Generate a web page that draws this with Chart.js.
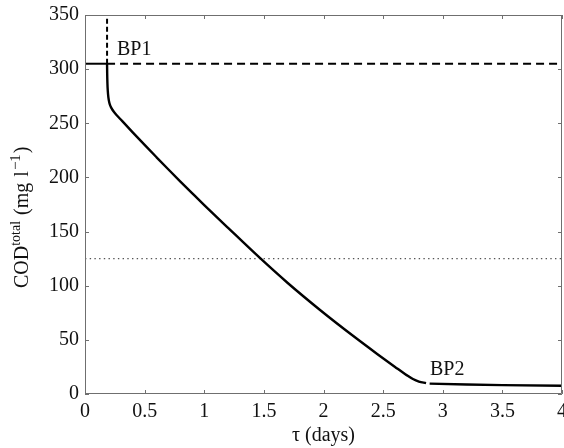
<!DOCTYPE html>
<html>
<head>
<meta charset="utf-8">
<script src="https://cdn.jsdelivr.net/npm/chart.js@4.4.1/dist/chart.umd.min.js"></script>
<style>
  html, body { margin: 0; padding: 0; background: #fff; }
  #wrap { width: 564px; height: 448px; position: relative; }
  .probe { position: absolute; left: -9999px; top: 0; font-family: "Liberation Serif", "Times New Roman", Tinos, "DejaVu Serif", serif; font-size: 19px; }
</style>
</head>
<body>
<span class="probe">COD BP1 0123456789</span>
<div id="wrap"><canvas id="c" width="564" height="448"></canvas></div>
<script>
// COD decline with residence time, up to breakpoint BP2
const curveX = [0.185, 0.186, 0.188, 0.191, 0.196, 0.204, 0.215, 0.23, 0.25, 0.3, 0.4, 0.5, 0.6, 0.7, 0.8, 0.9, 1.0, 1.2, 1.453, 1.7, 1.971, 2.25, 2.45, 2.6, 2.7, 2.75, 2.8, 2.86];
const curveY = [305, 296, 287, 280, 274, 269, 265.5, 262.5, 259.5, 253.5, 241.6, 230, 218.6, 207.3, 196.2, 185.3, 174.5, 153.4, 127, 102.5, 77.6, 53.5, 37, 25, 17.2, 13.8, 11.5, 10];
// plateau after BP2
const tailX = [2.89, 3.2, 3.5, 4];
const tailY = [9.6, 8.8, 8.2, 7.6];
// reference levels
const bp1X = 0.185;
const bp1Level = 305;
const limitLevel = 125;
const xRange = [0, 4];
const yRange = [0, 350];
const xTickStep = 0.5;
const yTickStep = 50;
const labels = [
  { text: 'BP1', x: 0.268, y: 313 },
  { text: 'BP2', x: 2.893, y: 17.5 }
];

const SERIF = '"Liberation Serif", "Times New Roman", Tinos, "DejaVu Serif", serif';
const pairs = (xs, ys) => xs.map((x, i) => ({ x: x, y: ys[i] }));

// frame, inward ticks, annotations and the y title
const decor = {
  id: 'decor',
  afterDatasetsDraw(chart) {
    const { ctx, chartArea: a, scales: { x, y } } = chart;
    ctx.save();
    ctx.strokeStyle = '#6f6f6f';
    ctx.lineWidth = 1;
    ctx.beginPath();
    ctx.rect(a.left + 0.5, a.top + 0.5, a.right - a.left - 1, a.bottom - a.top - 1);
    ctx.stroke();
    const tl = 4;
    ctx.beginPath();
    x.ticks.forEach(t => {
      const px = Math.round(x.getPixelForValue(t.value)) + 0.5;
      ctx.moveTo(px, a.bottom); ctx.lineTo(px, a.bottom - tl);
      ctx.moveTo(px, a.top); ctx.lineTo(px, a.top + tl);
    });
    y.ticks.forEach(t => {
      const py = Math.round(y.getPixelForValue(t.value)) + 0.5;
      ctx.moveTo(a.left, py); ctx.lineTo(a.left + tl, py);
      ctx.moveTo(a.right, py); ctx.lineTo(a.right - tl, py);
    });
    ctx.stroke();

    ctx.fillStyle = '#111';
    ctx.font = '20px ' + SERIF;
    ctx.textBaseline = 'alphabetic';
    ctx.textAlign = 'left';
    labels.forEach(l => ctx.fillText(l.text, x.getPixelForValue(l.x), y.getPixelForValue(l.y)));

    // rotated y-axis title with superscripts, reading bottom to top
    const parts = [
      { t: 'COD', size: 20, rise: 0, gap: 0 },
      { t: 'total', size: 14, rise: 8, gap: 0 },
      { t: '(mg', size: 20, rise: 0, gap: 6 },
      { t: 'l', size: 20, rise: 0, gap: 6 },
      { t: '\u22121', size: 15, rise: 8, gap: 1 },
      { t: ')', size: 20, rise: 0, gap: 1 }
    ];
    ctx.translate(28, 288);
    ctx.rotate(-Math.PI / 2);
    let cx = 0;
    parts.forEach(p => {
      ctx.font = p.size + 'px ' + SERIF;
      cx += p.gap;
      ctx.fillText(p.t, cx, -p.rise);
      cx += ctx.measureText(p.t).width;
    });
    ctx.restore();
  }
};

const chart = new Chart(document.getElementById('c'), {
  type: 'scatter',
  data: {
    datasets: [
      { data: pairs(curveX, curveY), showLine: true, borderColor: '#000', borderWidth: 2.4, pointRadius: 0, cubicInterpolationMode: 'monotone' },
      { data: pairs(tailX, tailY), showLine: true, borderColor: '#000', borderWidth: 2.4, pointRadius: 0 },
      { data: [{ x: xRange[0], y: bp1Level }, { x: bp1X, y: bp1Level }], showLine: true, borderColor: '#000', borderWidth: 2, pointRadius: 0 },
      { data: [{ x: bp1X, y: bp1Level }, { x: xRange[1], y: bp1Level }], showLine: true, borderColor: '#000', borderWidth: 2.2, borderDash: [8, 5], pointRadius: 0 },
      { data: [{ x: bp1X, y: bp1Level }, { x: bp1X, y: yRange[1] }], showLine: true, borderColor: '#000', borderWidth: 2, borderDash: [5, 3], pointRadius: 0 },
      { data: [{ x: xRange[0], y: limitLevel }, { x: xRange[1], y: limitLevel }], showLine: true, borderColor: '#555', borderWidth: 1.2, borderDash: [1.4, 3.3], pointRadius: 0 }
    ]
  },
  options: {
    responsive: false,
    animation: false,
    events: [],
    layout: { padding: { left: 0, top: 15, right: 2, bottom: 0 } },
    plugins: { legend: { display: false }, tooltip: { enabled: false } },
    scales: {
      x: {
        type: 'linear', min: xRange[0], max: xRange[1],
        grid: { display: false, drawTicks: false },
        border: { display: false },
        ticks: { stepSize: xTickStep, padding: 6, color: '#111', maxRotation: 0, font: { family: SERIF, size: 20 }, callback: v => String(v) },
        title: { display: true, text: '\u03c4 (days)', color: '#111', padding: 0, font: { family: SERIF, size: 20 } },
        afterFit(s) { s.height = 54; s.paddingLeft = 0; s.paddingRight = 0; }
      },
      y: {
        type: 'linear', min: yRange[0], max: yRange[1],
        grid: { display: false, drawTicks: false },
        border: { display: false },
        ticks: { stepSize: yTickStep, padding: 6, color: '#111', font: { family: SERIF, size: 20 }, callback: v => String(v) },
        afterFit(s) { s.width = 85; s.paddingTop = 0; s.paddingBottom = 0; }
      }
    }
  },
  plugins: [decor]
});

// redraw once the serif face is ready
if (document.fonts && document.fonts.load) {
  document.fonts.load('20px "Liberation Serif"').then(() => chart.update()).catch(() => {});
}
</script>
</body>
</html>
